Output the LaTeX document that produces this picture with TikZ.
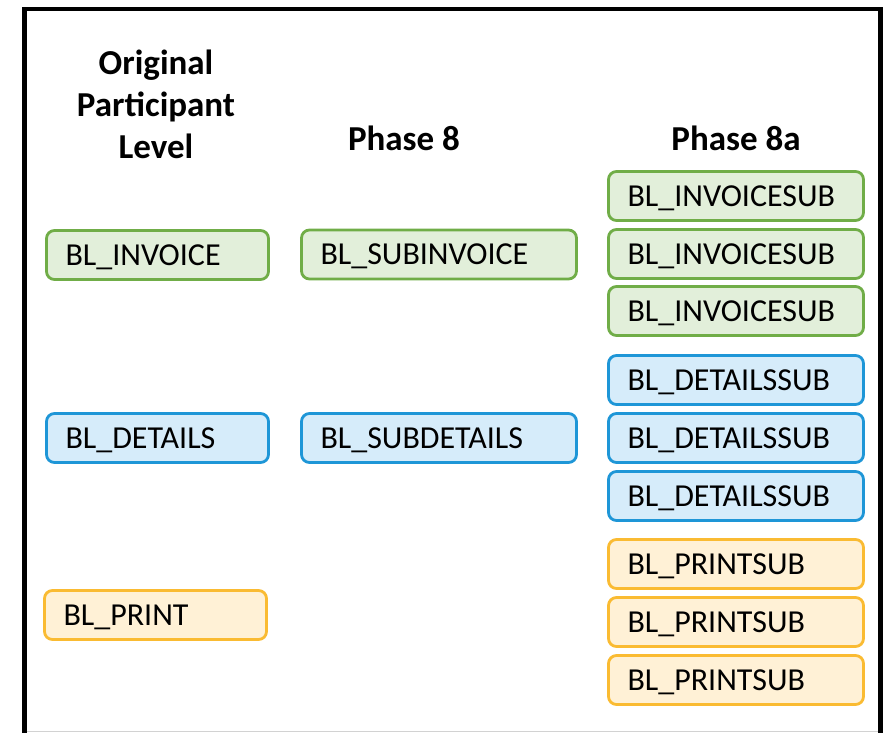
\documentclass[tikz,border=0pt]{standalone}
\usepackage{fontspec}
\setmainfont{Carlito}
\definecolor{gr}{RGB}{112,173,71}
\definecolor{grf}{RGB}{226,239,218}
\definecolor{bl}{RGB}{30,150,215}
\definecolor{blf}{RGB}{214,236,250}
\definecolor{og}{RGB}{250,187,50}
\definecolor{ogf}{RGB}{255,241,214}
\tikzset{
  bx/.style={draw, line width=2.8pt, rounded corners=8pt, minimum height=49pt,
    inner xsep=19pt, inner ysep=0pt, align=left, text height=24pt, text depth=4pt,
    font=\fontsize{32}{38}\selectfont},
  grn/.style={bx, draw=gr, fill=grf},
  blu/.style={bx, draw=bl, fill=blf},
  org/.style={bx, draw=og, fill=ogf},
  wL/.style={text width=184pt},
  wM/.style={text width=237pt},
  wR/.style={text width=217pt},
  hd/.style={font=\fontsize{35}{42}\selectfont\bfseries, align=center, inner sep=0pt}
}
\begin{document}
\begin{tikzpicture}[x=1pt,y=-1pt]
\useasboundingbox (0,0) rectangle (889,733);
\fill[white] (0,0) rectangle (889,733);
% frame
\draw[gray!35, line width=1pt] (27,731.5) -- (878,731.5);
\draw[black, line width=4.8pt] (24.5,733) -- (24.5,9) -- (880.5,9) -- (880.5,733);
% headings
\node[hd] (h1) at (156,104) {Original\\Participant\\Level};
\node[hd] (h2) at (404,138) {Phase 8};
\node[hd] (h3) at (736,138) {Phase 8a};
% left column
\node[grn, wL] (a1) at (157.5,255) {BL\_INVOICE};
\node[blu, wL] (a2) at (157.5,438) {BL\_DETAILS};
\node[org, wL] (a3) at (155.5,615) {BL\_PRINT};
% middle column
\node[grn, wM] (b1) at (439,254.5) {BL\_SUBINVOICE};
\node[blu, wM] (b2) at (439,438) {BL\_SUBDETAILS};
% right column
\node[grn, wR] (c1) at (736,196) {BL\_INVOICESUB};
\node[grn, wR] (c2) at (736,254) {BL\_INVOICESUB};
\node[grn, wR] (c3) at (736,311) {BL\_INVOICESUB};
\node[blu, wR] (c4) at (736,380) {BL\_DETAILSSUB};
\node[blu, wR] (c5) at (736,438) {BL\_DETAILSSUB};
\node[blu, wR] (c6) at (736,496) {BL\_DETAILSSUB};
\node[org, wR] (c7) at (736,564) {BL\_PRINTSUB};
\node[org, wR] (c8) at (736,622) {BL\_PRINTSUB};
\node[org, wR] (c9) at (736,680) {BL\_PRINTSUB};
\end{tikzpicture}
\end{document}
